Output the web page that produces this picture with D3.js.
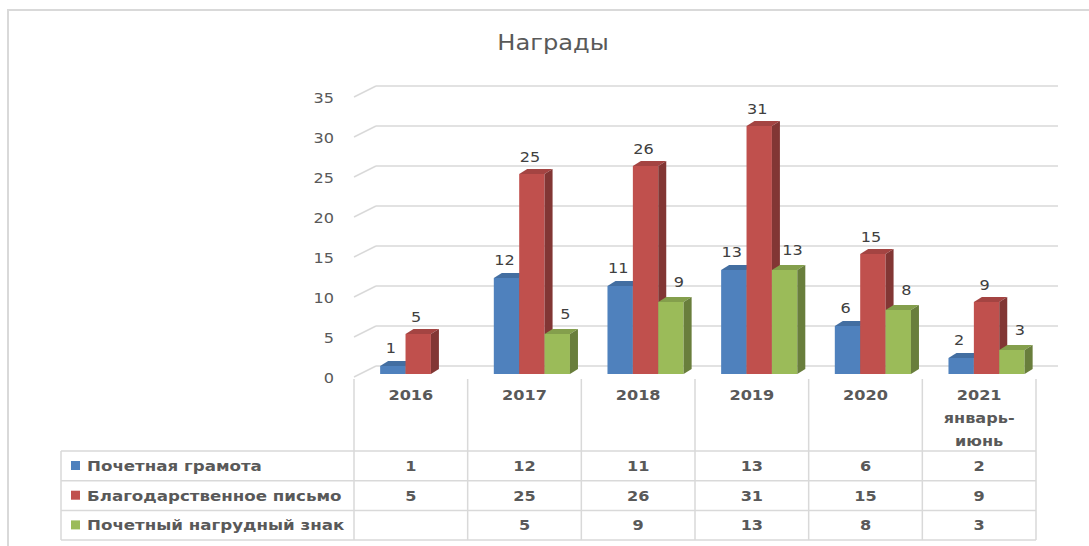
<!DOCTYPE html>
<html>
<head>
<meta charset="utf-8">
<script src="https://cdn.jsdelivr.net/npm/d3@7"></script>
<style>
    body { margin: 0; background: #fff; }
    #chart-area { width: 1089px; height: 546px; }
    text { font-family: "DejaVu Sans", Verdana, sans-serif; fill: #595959; }
</style>
</head>
<body>
<div id="chart-area"></div>
<script>
// data
const years = ["2016", "2017", "2018", "2019", "2020", "2021 январь-июнь"];
const yearLines = [["2016"], ["2017"], ["2018"], ["2019"], ["2020"], ["2021", "январь-", "июнь"]];
const seriesNames = ["Почетная грамота", "Благодарственное письмо", "Почетный нагрудный знак"];
const gramota = [1, 12, 11, 13, 6, 2];
const pismo = [5, 25, 26, 31, 15, 9];
const znak = [null, 5, 9, 13, 8, 3];
const seriesColors = ["#4f81bd", "#c0504d", "#9bbb59"];
const yTicks = [0, 5, 10, 15, 20, 25, 30, 35];

// the original text is a little wider than DejaVu, stretch it horizontally
const STRETCH = 1.15;
const place = (x, y) => `translate(${x},${y}) scale(${STRETCH},1)`;

class AwardsChart {
    constructor(parentElement) {
        this.parentElement = parentElement;
        this.initVis();
    }

    initVis() {
        let vis = this;

        vis.width = 1089;
        vis.height = 546;

        vis.svg = d3.select("#" + vis.parentElement).append("svg")
            .attr("width", vis.width)
            .attr("height", vis.height);

        // outer frame (only top and left visible)
        vis.svg.append("path")
            .attr("d", "M8,546 V10 H1089")
            .attr("fill", "none")
            .attr("stroke", "#d9d9d9")
            .attr("stroke-width", 2);

        vis.svg.append("text")
            .attr("transform", place(553, 50))
            .attr("text-anchor", "middle")
            .attr("font-size", "21px")
            .text("Награды");

        vis.x0 = d3.scaleBand()
            .domain(years)
            .range([354, 1036]);

        vis.x1 = d3.scaleBand()
            .domain(seriesNames)
            .range([vis.x0.bandwidth() * 0.23, vis.x0.bandwidth() * 0.9]);

        vis.y = d3.scaleLinear()
            .domain([0, 35])
            .range([374, 94]);

        vis.color = d3.scaleOrdinal().domain(seriesNames).range(seriesColors);

        // 3d offsets
        vis.wall = {dx: 22, back: -8, front: 3};
        vis.depth = {dx: 8, dy: -5};
        // labels sit a bit off the front face (perspective)
        vis.labelShift = [{dx: -2, dy: -13}, {dx: -2, dy: -12}, {dx: 8, dy: -15}];

        vis.wrangleData();
    }

    wrangleData() {
        let vis = this;

        let cols = [gramota, pismo, znak];
        vis.bars = [];
        years.forEach((yr, i) => {
            seriesNames.forEach((s, j) => {
                if (cols[j][i] !== null) {
                    vis.bars.push({year: yr, series: s, idx: j, value: cols[j][i]});
                }
            });
        });
        vis.rows = seriesNames.map((s, j) => ({series: s, values: cols[j]}));

        vis.updateVis();
    }

    updateVis() {
        let vis = this;
        let x0 = vis.x0, x1 = vis.x1, y = vis.y;
        let left = x0.range()[0], right = x0.range()[1];

        // back wall gridlines
        vis.svg.append("g").selectAll("line.grid")
            .data(yTicks)
            .enter().append("line")
            .attr("x1", left + vis.wall.dx)
            .attr("x2", right + vis.wall.dx)
            .attr("y1", d => y(d) + vis.wall.back)
            .attr("y2", d => y(d) + vis.wall.back)
            .attr("stroke", "#d9d9d9")
            .attr("stroke-width", 1.5);

        // side wall diagonals
        vis.svg.append("g").selectAll("line.diag")
            .data(yTicks)
            .enter().append("line")
            .attr("x1", left)
            .attr("x2", left + vis.wall.dx)
            .attr("y1", d => y(d) + vis.wall.front)
            .attr("y2", d => y(d) + vis.wall.back)
            .attr("stroke", "#d9d9d9")
            .attr("stroke-width", 1.5);

        // y labels
        vis.svg.append("g").selectAll("text")
            .data(yTicks)
            .enter().append("text")
            .attr("transform", d => place(left - 20, y(d) + 9))
            .attr("text-anchor", "end")
            .attr("font-size", "14px")
            .text(d => d);

        // bars
        let bar = vis.svg.append("g").selectAll("g.bar")
            .data(vis.bars)
            .enter().append("g")
            .attr("class", "bar");

        let dx = vis.depth.dx, dy = vis.depth.dy;
        bar.each(function (d) {
            let g = d3.select(this);
            let xa = x0(d.year) + x1(d.series);
            let xb = xa + x1.bandwidth();
            let yt = y(d.value), yb = y(0);
            let c = d3.color(vis.color(d.series));

            g.append("rect")
                .attr("x", xa)
                .attr("y", yt)
                .attr("width", xb - xa)
                .attr("height", yb - yt)
                .attr("fill", c);

            g.append("path")
                .attr("d", `M${xa},${yt} L${xa + dx},${yt + dy} L${xb + dx},${yt + dy} L${xb},${yt} Z`)
                .attr("fill", c.darker(0.45));

            g.append("path")
                .attr("d", `M${xb},${yt} L${xb + dx},${yt + dy} L${xb + dx},${yb + dy} L${xb},${yb} Z`)
                .attr("fill", c.darker(1.1));

            let ls = vis.labelShift[d.idx];
            g.append("text")
                .attr("transform", place((xa + xb) / 2 + ls.dx, yt + ls.dy))
                .attr("text-anchor", "middle")
                .attr("font-size", "14px")
                .style("fill", "#404040")
                .text(d.value);
        });

        // data table
        let rowTop = 451, rowH = 29.7, tableLeft = 61;
        let grid = vis.svg.append("g")
            .attr("stroke", "#d9d9d9")
            .attr("stroke-width", 1.5);

        // vertical column lines
        let colEdges = years.map(yr => x0(yr)).concat([right]);
        grid.selectAll("line.col")
            .data(colEdges)
            .enter().append("line")
            .attr("x1", d => d)
            .attr("x2", d => d)
            .attr("y1", y(0) + 5)
            .attr("y2", rowTop + rowH * 3);

        grid.append("line")
            .attr("x1", tableLeft).attr("x2", tableLeft)
            .attr("y1", rowTop).attr("y2", rowTop + rowH * 3);

        grid.selectAll("line.row")
            .data(d3.range(4))
            .enter().append("line")
            .attr("x1", tableLeft)
            .attr("x2", right)
            .attr("y1", d => rowTop + d * rowH)
            .attr("y2", d => rowTop + d * rowH);

        // header labels
        let header = vis.svg.append("g").selectAll("text")
            .data(years)
            .enter().append("text")
            .attr("transform", d => place(x0(d) + x0.bandwidth() / 2, 400))
            .attr("text-anchor", "middle")
            .attr("font-size", "14px")
            .attr("font-weight", "bold");

        header.each(function (d, i) {
            d3.select(this).selectAll("tspan")
                .data(yearLines[i])
                .enter().append("tspan")
                .attr("x", 0)
                .attr("dy", (t, k) => k === 0 ? 0 : 23)
                .text(t => t);
        });

        // rows
        let row = vis.svg.append("g").selectAll("g.row")
            .data(vis.rows)
            .enter().append("g")
            .attr("transform", (d, i) => `translate(0, ${rowTop + i * rowH})`);

        row.append("rect")
            .attr("x", 71)
            .attr("y", 10)
            .attr("width", 9)
            .attr("height", 9)
            .attr("fill", d => vis.color(d.series));

        row.append("text")
            .attr("transform", place(87, 20))
            .attr("font-size", "14.5px")
            .attr("font-weight", "bold")
            .text(d => d.series);

        row.selectAll("text.val")
            .data(d => d.values)
            .enter().append("text")
            .attr("transform", (v, i) => place(x0(years[i]) + x0.bandwidth() / 2, 20))
            .attr("text-anchor", "middle")
            .attr("font-size", "14px")
            .attr("font-weight", "bold")
            .text(v => v === null ? "" : v);
    }
}

new AwardsChart("chart-area");
</script>
</body>
</html>
